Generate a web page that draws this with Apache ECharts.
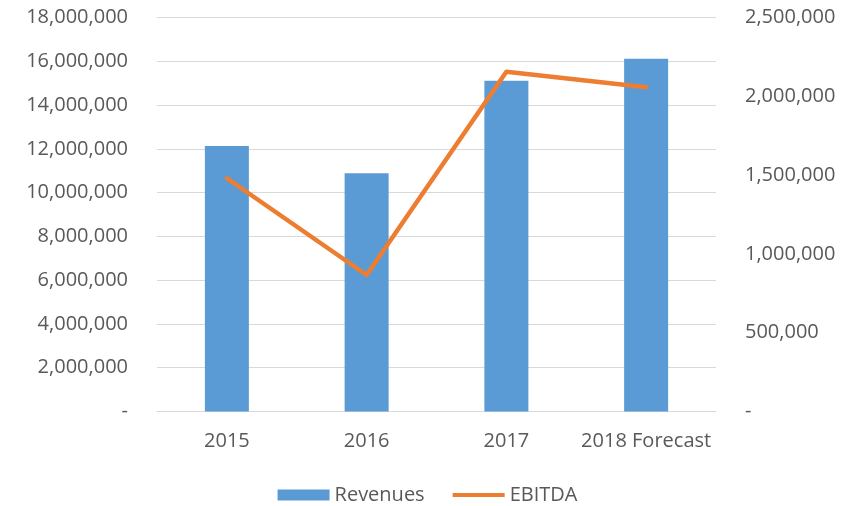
<!DOCTYPE html>
<html>
<head>
<meta charset="utf-8">
<script src="https://cdn.jsdelivr.net/npm/echarts@6/dist/echarts.min.js"></script>
<style>
  html, body { margin: 0; padding: 0; background: #fff; }
  #chart { width: 855px; height: 506px; }
</style>
</head>
<body>
<div id="chart"></div>
<script>
// 数据
const years = ['2015', '2016', '2017', '2018 Forecast']
const revenues = [12130000, 10880000, 15110000, 16120000]
const ebitda = [1480000, 866000, 2156000, 2057000]

const fmt = v => v === 0 ? '-' : v.toLocaleString('en-US')
const font = '"Open Sans", "Liberation Sans", sans-serif'

const chart = echarts.init(document.getElementById('chart'))
const option = {
  animation: false,
  textStyle: { fontFamily: font },
  grid: { left: 157, right: 139, top: 17.5, bottom: 94.5 },
  legend: {
    bottom: 1,
    padding: 0,
    left: 'center',
    itemGap: 28,
    itemWidth: 52,
    itemHeight: 11,
    textStyle: { color: '#595959', fontSize: 20, fontFamily: font },
    data: [
      { name: 'Revenues', icon: 'rect' },
      // 细线图例：用透明的moveTo撑开高度
      { name: 'EBITDA', icon: 'path://M0,0 M0,3.5 L52,3.5 L52,7.5 L0,7.5 Z M52,11' }
    ]
  },
  xAxis: {
    type: 'category',
    data: years,
    axisLine: { lineStyle: { color: '#D9D9D9' } },
    axisTick: { show: false },
    axisLabel: { color: '#595959', fontSize: 20, margin: 20, interval: 0 }
  },
  yAxis: [
    {
      type: 'value',
      min: 0, max: 18000000, interval: 2000000,
      axisLine: { show: false },
      axisTick: { show: false },
      splitLine: { lineStyle: { color: '#D9D9D9', width: 1 } },
      axisLabel: { color: '#595959', fontSize: 20, margin: 29, formatter: fmt }
    },
    {
      type: 'value',
      min: 0, max: 2500000, interval: 500000,
      axisLine: { show: false },
      axisTick: { show: false },
      splitLine: { show: false },
      axisLabel: { color: '#595959', fontSize: 20, margin: 29, formatter: fmt }
    }
  ],
  series: [
    {
      name: 'Revenues',
      type: 'bar',
      data: revenues,
      barWidth: 44,
      itemStyle: { color: '#5B9BD5' }
    },
    {
      name: 'EBITDA',
      type: 'line',
      yAxisIndex: 1,
      data: ebitda,
      symbol: 'none',
      lineStyle: { color: '#ED7D31', width: 4.5, cap: 'round', join: 'round' },
      itemStyle: { color: '#ED7D31' }
    }
  ]
}
chart.setOption(option)
</script>
</body>
</html>
